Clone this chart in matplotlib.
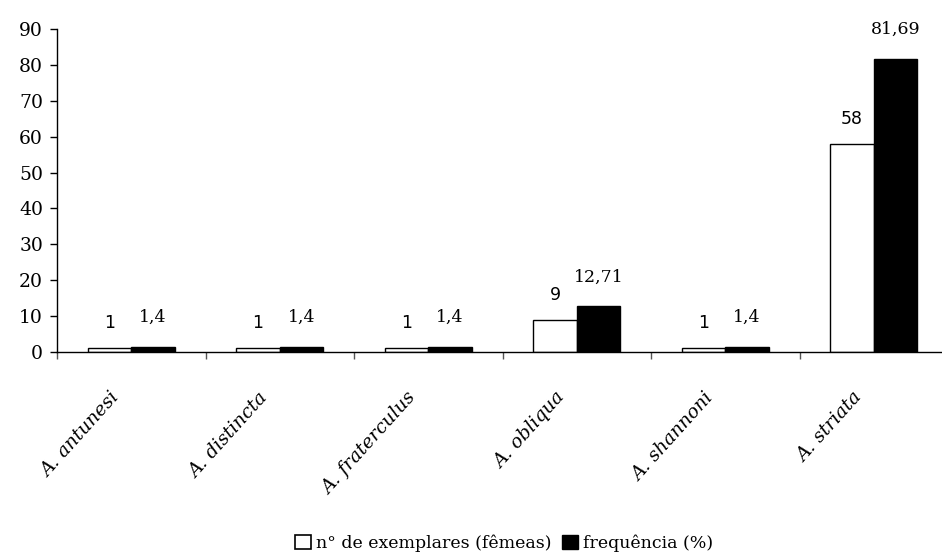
import matplotlib
matplotlib.use("Agg")
import matplotlib.pyplot as plt
import matplotlib.transforms as mtransforms
from matplotlib.patches import Patch
import numpy as np

categories = ["A. antunesi", "A. distincta", "A. fraterculus",
              "A. obliqua", "A. shannoni", "A. striata"]
n_exemplares = [1, 1, 1, 9, 1, 58]
frequencia = [1.4, 1.4, 1.4, 12.71, 1.4, 81.69]
series_names = ["n° de exemplares (fêmeas)", "frequência (%)"]
yticks = [0, 10, 20, 30, 40, 50, 60, 70, 80, 90]

SERIF = "DejaVu Serif"
SANS = "DejaVu Sans"

fig = plt.figure(figsize=(9.42, 5.59), dpi=100)
ax = fig.add_axes([57/942, 1-352/559, 891/942, 323/559])

x = np.arange(len(categories)) + 0.5
w = 0.293
ax.bar(x - w/2, n_exemplares, width=w, color="white", edgecolor="black", linewidth=1.0)
ax.bar(x + w/2, frequencia, width=w, color="black", edgecolor="black", linewidth=1.0)

def fmt(v):
    return ("%g" % v).replace(".", ",")

for xi, v in zip(x - w/2, n_exemplares):
    ax.annotate(fmt(v), (xi, v), xytext=(0, 18), textcoords="offset points",
                ha="center", va="center", fontsize=12.5, family=SANS)
for xi, v in zip(x + w/2, frequencia):
    ax.annotate(fmt(v), (xi, v), xytext=(0, 21), textcoords="offset points",
                ha="center", va="center", fontsize=12.5, family=SERIF)

ax.set_xlim(0, len(categories))
ax.set_ylim(0, 90)
ax.set_yticks(yticks)
ax.set_yticklabels([str(t) for t in yticks], family=SERIF, fontsize=13.5)
ax.tick_params(axis="y", direction="out", length=5, width=1, pad=5)

ax.set_xticks([])
ax.set_xticks(np.arange(len(categories) + 1), minor=True)
ax.tick_params(axis="x", which="minor", direction="out", length=5, width=1, color="#555555")

for s in ["top", "right"]:
    ax.spines[s].set_visible(False)
ax.spines["left"].set_linewidth(1)
ax.spines["bottom"].set_linewidth(1)

trans = mtransforms.blended_transform_factory(ax.transData, ax.transAxes) + \
    mtransforms.ScaledTranslation(-15/100, -43/100, fig.dpi_scale_trans)
for xi, cat in zip(x, categories):
    ax.text(xi, 0, cat, transform=trans, rotation=48, ha="right", va="center",
            rotation_mode="anchor", fontsize=13.5, family=SERIF, style="italic")

handles = [Patch(facecolor="white", edgecolor="black", linewidth=1.2),
           Patch(facecolor="black", edgecolor="black")]
fig.legend(handles, series_names, loc="center", bbox_to_anchor=(504/942, 16/559),
           ncol=2, frameon=False, handlelength=0.9, handleheight=0.9,
           handletextpad=0.3, columnspacing=0.6, borderpad=0,
           prop={"family": SERIF, "size": 12.5})

fig.savefig("out.png", dpi=100)
